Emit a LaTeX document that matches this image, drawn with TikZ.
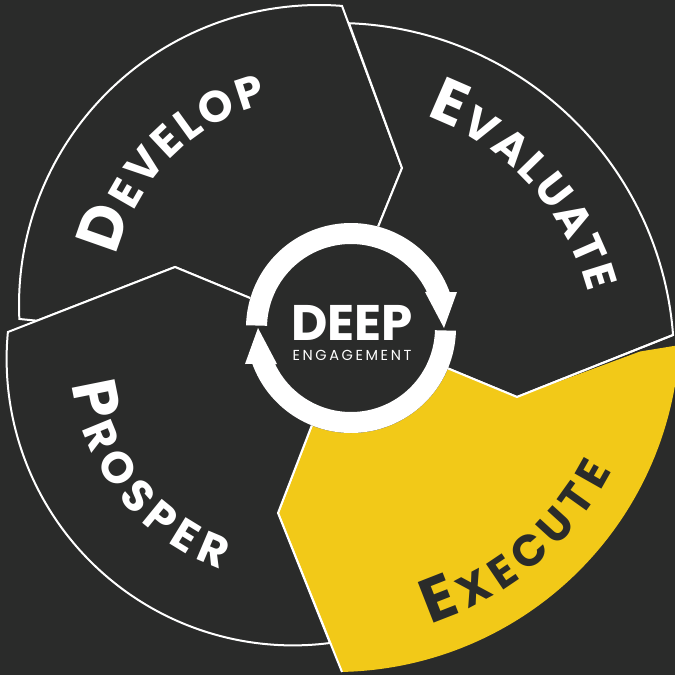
\documentclass[tikz,border=0pt]{standalone}
\usepackage{fontspec}
\setmainfont{Poppins}
\usetikzlibrary{decorations.text}
\definecolor{bg}{HTML}{2A2B2A}
\definecolor{gold}{HTML}{F2C918}
\newfontfamily\engfam{Poppins}[LetterSpace=18]
\newcommand\lblbig{\fontsize{62}{62}\selectfont\bfseries}
\newcommand\lblsmall{\fontsize{44}{44}\selectfont\bfseries}
\newcommand\deepfont{\fontsize{50}{50}\selectfont\bfseries}
\newcommand\engfont{\engfam\fontsize{14.5}{14.5}\selectfont}
\begin{document}
\begin{tikzpicture}[x=1pt,y=-1pt,
  piece/.style={fill=bg, draw=white, line width=2pt, line join=miter},
  seam/.style={draw=white, line width=2pt, line join=miter},
  arrowband/.style={fill=white}]
\useasboundingbox (0,0) rectangle (675,675);
\fill[bg] (0,0) rectangle (675,675);
\clip (0,0) rectangle (675,675);

% Develop (upper left)
\path[piece] plot[domain=177.33:274.4, samples=90] ({319+300*cos(\x)},{305+300*sin(\x)})
  -- (402,168) -- (378,227) -- (351,328) -- (250,298) -- (175,267) -- (37,320.7) -- cycle;

% Evaluate (upper right)
\path[piece] plot[domain=272.04:355.74, samples=90] ({337+337*cos(\x)},{360+337*sin(\x)})
  -- (517,397) -- (447,368) -- (351,328) -- (378,227) -- (402,168) -- cycle;

% Execute (lower right, highlighted)
\fill[gold] plot[domain=3.0:88.9, samples=90] ({335+345*cos(\x)},{327+345*sin(\x)})
  -- (278,513) -- (310,430) -- (351,328) -- (447,368) -- (517,397) -- (640,351.5) -- cycle;
\draw[seam] (673,335) -- (517,397) -- (447,368) -- (351,328);
\draw[seam] (342,672) -- (278,513) -- (310,430) -- (351,328);

% Prosper (lower left)
\path[piece] plot[domain=82.58:185.41, samples=90] ({293+286.4*cos(\x)},{359+286.4*sin(\x)})
  -- (175,267) -- (250,298) -- (351,328) -- (310,430) -- (278,513) -- cycle;

% central disk and circular arrows
\fill[bg] (351,328) circle[radius=105];
\fill[arrowband] plot[domain=181.5:340, samples=70] ({351+105*cos(\x)},{328+105*sin(\x)})
  -- (457,292) -- (444,328) -- (425,292)
  -- plot[domain=0:153.1, samples=70] ({351+84*cos(334.6-\x)},{328+84*sin(334.6-\x)}) -- cycle;
\fill[arrowband] plot[domain=1.5:160, samples=70] ({351+105*cos(\x)},{328+105*sin(\x)})
  -- (245,364) -- (258,328) -- (277,364)
  -- plot[domain=0:153.1, samples=70] ({351+84*cos(154.6-\x)},{328+84*sin(154.6-\x)}) -- cycle;

\node[text=white, anchor=base, font=\deepfont, inner sep=0pt, text depth=0pt] (deep) at (352,340) {DEEP};
\node[text=white, anchor=base, font=\engfont, inner sep=0pt, text height=10pt] (engagement) at (352,360) {ENGAGEMENT};

% curved labels
\path[decorate, decoration={text along path, text align=fit to path, text color=white,
    text={|\lblbig|D|\lblsmall|EVELOP}}]
  plot[domain=193.6:255.6, samples=60] ({319+208*cos(\x)},{305+208*sin(\x)});
\path[decorate, decoration={text along path, text align=fit to path, text color=white,
    text={|\lblbig|E|\lblsmall|VALUATE}}]
  plot[domain=290.2:345, samples=60] ({337+260*cos(\x)},{360+260*sin(\x)});
\path[decorate, decoration={text along path, text align=fit to path, text color=bg,
    text={|\lblbig|E|\lblsmall|XECUTE}}]
  plot[domain=0:44.7, samples=60] ({335+312*cos(72.2-\x)},{327+312*sin(72.2-\x)});
\path[decorate, decoration={text along path, text align=fit to path, text color=white,
    text={|\lblbig|P|\lblsmall|ROSPER}}]
  plot[domain=0:64.5, samples=60] ({293+222*cos(173.5-\x)},{359+222*sin(173.5-\x)});
\end{tikzpicture}
\end{document}
